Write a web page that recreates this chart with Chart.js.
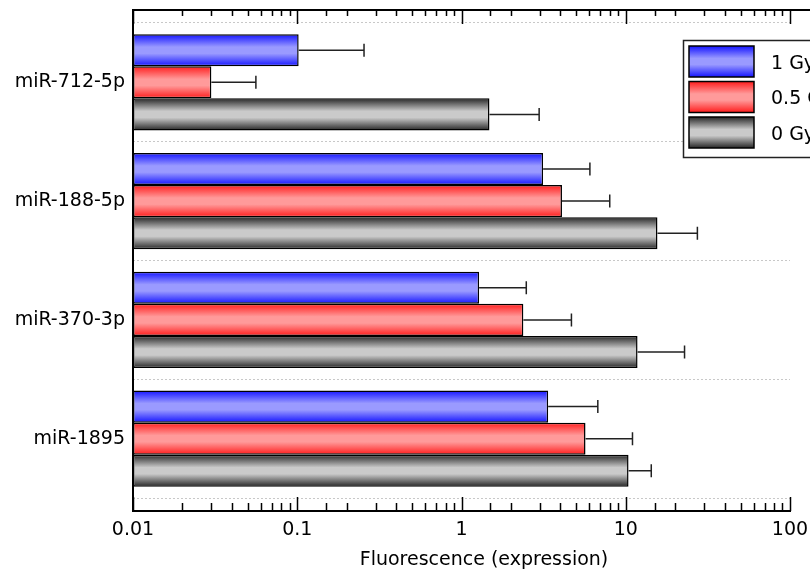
<!DOCTYPE html>
<html><head><meta charset="utf-8">
<script src="https://cdn.jsdelivr.net/npm/chart.js@4.4.1/dist/chart.umd.min.js"></script>
<style>html,body{margin:0;padding:0;background:#fff;} canvas{display:block;}</style>
</head><body>
<canvas id="c" width="810" height="575"></canvas>
<script>
// ---- data ----
const categories = ['miR-712-5p', 'miR-188-5p', 'miR-370-3p', 'miR-1895'];
const seriesLabels = ['1 Gy', '0.5 Gy', '0 Gy'];
const gy1 = [0.102, 3.14, 1.28, 3.37];
const gy1Err = [0.153, 2.91, 1.20, 3.39];
const gy05 = [0.030, 4.09, 2.38, 5.69];
const gy05Err = [0.026, 3.9, 2.29, 5.3];
const gy0 = [1.48, 15.6, 11.8, 10.4];
const gy0Err = [1.49, 11.7, 11.0, 3.9];
const xTickValues = [0.01, 0.1, 1, 10, 100];
const xTickLabels = ['0.01', '0.1', '1', '10', '100'];
const xTitle = 'Fluorescence (expression)';

// ---- style ----
const FONT = '"DejaVu Sans", "Liberation Sans", Arial, sans-serif';
const palette = [
  {dark: '#1414ff', light: '#9a9aff'},
  {dark: '#ff1c1c', light: '#ff9a9a'},
  {dark: '#262626', light: '#cacaca'}
];
function makeGrad(ctx, y0, y1, pal) {
  const g = ctx.createLinearGradient(0, y0, 0, y1);
  g.addColorStop(0, pal.dark);
  g.addColorStop(0.4, pal.light);
  g.addColorStop(0.6, pal.light);
  g.addColorStop(1, pal.dark);
  return g;
}
function barGradient(c, i) {
  const el = c.element;
  if (!el || !isFinite(el.y) || !el.height) return palette[i].light;
  const h = el.height;
  return makeGrad(c.chart.ctx, el.y - h / 2, el.y + h / 2, palette[i]);
}

const seriesVals = [gy1, gy05, gy0];
const seriesErrs = [gy1Err, gy05Err, gy0Err];
const datasets = seriesVals.map((vals, i) => ({
  label: seriesLabels[i],
  data: vals.map((v, j) => ({x: v, y: j})),
  errors: seriesErrs[i],
  backgroundColor: (c) => barGradient(c, i),
  borderColor: '#000',
  borderWidth: 1.5,
  borderSkipped: false,
  categoryPercentage: 0.81,
  barPercentage: 1.0
}));

const catTicks = categories.map((_, i) => i);
const boundaryTicks = categories.map((_, i) => i - 0.5).concat([categories.length - 0.5]);
const Y_MIN = -0.609, Y_MAX = categories.length - 1 + 0.609;

function isPow10(v) { const l = Math.log10(v); return Math.abs(l - Math.round(l)) < 1e-6; }

const errorBars = {
  id: 'errorBars',
  afterDatasetsDraw(chart) {
    const ctx = chart.ctx, xs = chart.scales.x;
    chart.data.datasets.forEach((ds, di) => {
      const meta = chart.getDatasetMeta(di);
      meta.data.forEach((el, j) => {
        const hi = ds.data[j].x + ds.errors[j];
        const x0 = el.x, x1 = xs.getPixelForValue(hi), y = el.y;
        ctx.save();
        ctx.strokeStyle = '#222'; ctx.lineWidth = 1.5;
        ctx.beginPath();
        ctx.moveTo(x0, y); ctx.lineTo(x1, y);
        ctx.moveTo(x1, y - 6.5); ctx.lineTo(x1, y + 6.5);
        ctx.stroke();
        ctx.restore();
      });
    });
  }
};

const framePlugin = {
  id: 'frame',
  afterDraw(chart) {
    const ctx = chart.ctx, a = chart.chartArea, xs = chart.scales.x;
    ctx.save();
    ctx.strokeStyle = '#000';
    ctx.lineWidth = 2;
    ctx.beginPath(); ctx.moveTo(a.left - 1, a.top); ctx.lineTo(chart.width, a.top); ctx.stroke();
    ctx.lineWidth = 1.5;
    xs.ticks.forEach(t => {
      const p = Math.round(xs.getPixelForValue(t.value)) + 0.5;
      const major = isPow10(t.value);
      ctx.beginPath();
      ctx.moveTo(p, a.top); ctx.lineTo(p, a.top + (major ? 14 : 6));
      ctx.moveTo(p, a.bottom); ctx.lineTo(p, a.bottom - (major ? 14 : 8));
      ctx.stroke();
    });
    // axis title
    ctx.fillStyle = '#000';
    ctx.font = '19px ' + FONT;
    ctx.textAlign = 'center';
    ctx.textBaseline = 'middle';
    ctx.fillText(xTitle, 484, 560);
    ctx.restore();
  }
};

const legendPlugin = {
  id: 'boxLegend',
  afterDraw(chart) {
    const ctx = chart.ctx;
    ctx.save();
    ctx.fillStyle = '#fff';
    ctx.fillRect(683, 40, 200, 117);
    ctx.strokeStyle = '#222'; ctx.lineWidth = 1.5;
    ctx.strokeRect(683.5, 40.5, 200, 117);
    chart.data.datasets.forEach((ds, i) => {
      const y0 = 46 + i * 35.5, h = 31;
      ctx.fillStyle = makeGrad(ctx, y0, y0 + h, palette[i]);
      ctx.fillRect(689, y0, 65, h);
      ctx.strokeStyle = '#000'; ctx.lineWidth = 1.5;
      ctx.strokeRect(689, y0, 65, h);
      ctx.fillStyle = '#000';
      ctx.font = '19px ' + FONT;
      ctx.textAlign = 'left';
      ctx.textBaseline = 'alphabetic';
      ctx.fillText(ds.label, 771, y0 + h / 2 + 7);
    });
    ctx.restore();
  }
};

const chart = new Chart(document.getElementById('c'), {
  type: 'bar',
  data: {datasets},
  plugins: [errorBars, framePlugin, legendPlugin],
  options: {
    indexAxis: 'y',
    responsive: false,
    animation: false,
    layout: {padding: {top: 10, right: 20, left: 0, bottom: 0}},
    plugins: {legend: {display: false}, tooltip: {enabled: false}},
    scales: {
      x: {
        type: 'logarithmic',
        min: 0.01, max: 100,
        afterFit: s => { s.height = 64; s.paddingLeft = 0; s.paddingRight = 0; },
        ticks: {
          autoSkip: false, maxRotation: 0, padding: 8, color: '#000',
          font: {family: FONT, size: 19},
          callback: v => { const k = xTickValues.findIndex(t => Math.abs(t - v) / t < 1e-6); return k >= 0 ? xTickLabels[k] : ''; }
        },
        grid: {display: true, drawOnChartArea: false, drawTicks: false},
        border: {display: true, color: '#000', width: 2}
      },
      y: {
        type: 'linear',
        position: 'left',
        reverse: true,
        offset: false,
        min: Y_MIN, max: Y_MAX,
        afterBuildTicks: s => { s.ticks = catTicks.map(v => ({value: v})); },
        afterFit: s => { s.width = 133; s.paddingTop = 0; s.paddingBottom = 0; },
        ticks: {
          autoSkip: false, padding: 8, color: '#000',
          font: {family: FONT, size: 19},
          callback: v => categories[v]
        },
        grid: {display: true, drawOnChartArea: false, drawTicks: false, offset: false},
        border: {display: true, color: '#000', width: 2}
      },
      yGrid: {
        type: 'linear',
        axis: 'y',
        position: 'left',
        reverse: true,
        offset: false,
        min: Y_MIN, max: Y_MAX,
        afterBuildTicks: s => { s.ticks = boundaryTicks.map(v => ({value: v})); },
        afterFit: s => { s.width = 0; s.paddingTop = 0; s.paddingBottom = 0; },
        ticks: {display: false},
        grid: {drawTicks: false, offset: false, color: '#c8c8c8', lineWidth: 1},
        border: {display: false, dash: [2, 2]}
      }
    }
  }
});
chart.update('none');
</script>
</body></html>
